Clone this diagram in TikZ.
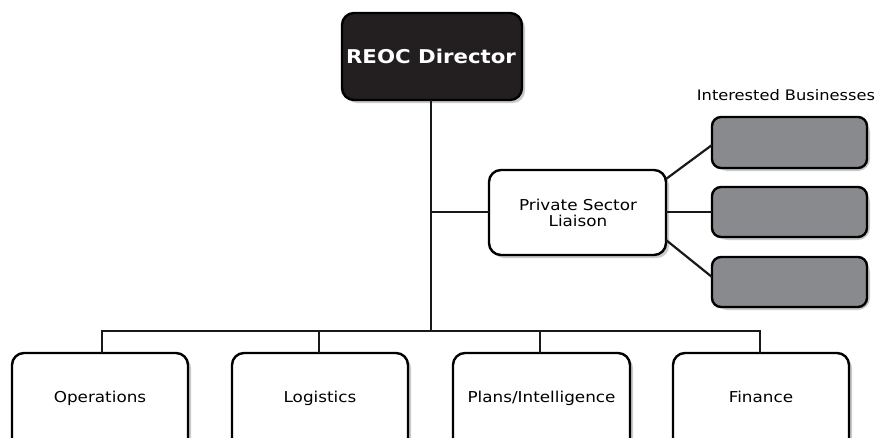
\documentclass[tikz,border=0pt]{standalone}
\usepackage{fontspec}
\setmainfont{DejaVu Sans}[FakeStretch=1.12]
\begin{document}
\begin{tikzpicture}[x=1pt,y=-1pt,
  box/.style={draw=black,line width=2.4pt,rounded corners=12pt,fill=white},
  shadowbox/.style={fill=black!35,rounded corners=12pt,opacity=0.6},
  biz/.style={draw=black,line width=2.4pt,rounded corners=9pt,fill=bizgray},
  conn/.style={line width=2.2pt,draw=black!90},
  lbl/.style={font=\fontsize{15}{17}\selectfont,anchor=base}]
\definecolor{bizgray}{HTML}{898A8D}
\definecolor{dirfill}{HTML}{231F20}
\useasboundingbox (0,0) rectangle (886,437);
\clip (0,0) rectangle (886,437);
% shadows
\foreach \a/\b/\c/\d in {342/13/522/100,489/170/666/255,712/117/867/168,712/187/867/237,712/257/867/307,12/353/188/450,232/353/408/450,453/353/630/450,673/353/849/450}
  \fill[shadowbox] (\a+3,\b+3) rectangle (\c+3,\d+3);
% director
\draw[box,fill=dirfill] (342,13) rectangle (522,100);
\node[font=\fontsize{19}{21}\selectfont\bfseries,text=white] (dir) at (431,56.5) {REOC Director};
\coordinate (dirb) at (431,100);
% liaison
\draw[box] (489,170) rectangle (666,255);
\node[align=center,font=\fontsize{15}{16.5}\selectfont] (psl) at (578,213) {Private Sector\\Liaison};
% businesses
\draw[biz] (712,117) rectangle (867,168);
\draw[biz] (712,187) rectangle (867,237);
\draw[biz] (712,257) rectangle (867,307);
\coordinate (b1) at (712,145);
\coordinate (b2) at (712,212);
\coordinate (b3) at (712,277);
\node[font=\fontsize{14.5}{16}\selectfont] (ib) at (786,95) {Interested Businesses};
% bottom boxes
\draw[box] (12,353) rectangle (188,450);
\draw[box] (232,353) rectangle (408,450);
\draw[box] (453,353) rectangle (630,450);
\draw[box] (673,353) rectangle (849,450);
\node[lbl] (ops) at (100,402) {Operations};
\node[lbl] (log) at (320,402) {Logistics};
\node[lbl] (pla) at (541.5,402) {Plans/Intelligence};
\node[lbl] (fin) at (761,402) {Finance};
% connectors
\coordinate (bus) at (431,331);
\coordinate (pj) at (431,212);
\draw[conn] (dirb) -- (bus);
\draw[conn] (pj) -- (489,212);
\draw[conn] (666,179) -- (b1);
\draw[conn] (666,212) -- (b2);
\draw[conn] (666,240) -- (b3);
\draw[conn] (102,353) |- (760,331) -- (760,353);
\draw[conn] (319,331) -- (319,353);
\draw[conn] (540,331) -- (540,353);
\end{tikzpicture}
\end{document}
